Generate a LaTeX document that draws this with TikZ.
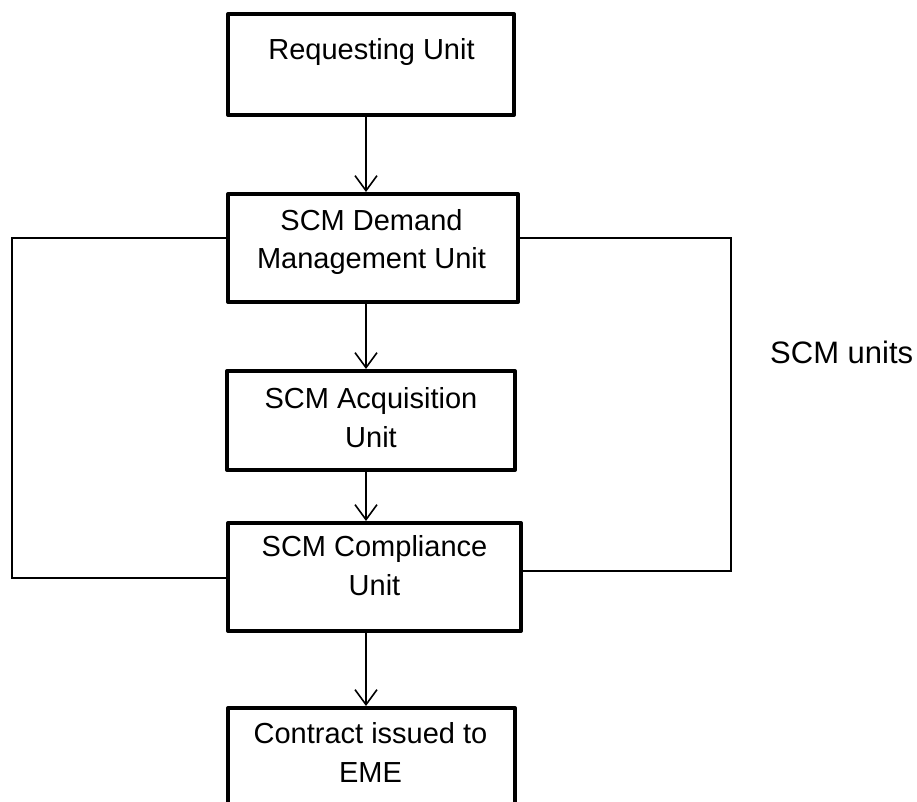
\documentclass[tikz,border=0pt]{standalone}
\usepackage{fontspec}
\setmainfont{Liberation Sans}
\usetikzlibrary{arrows.meta}

\tikzset{
  unitbox/.style={draw=black, line width=4pt, fill=white, inner sep=0pt,
    rectangle, line join=round},
  boxtext/.style={anchor=base, inner sep=0pt, font=\fontsize{29}{34}\selectfont},
  flow/.style={draw=black, line width=1.6pt,
    -{Straight Barb[length=15pt,width=22pt,line join=miter]}},
  bracket/.style={draw=black, line width=1.5pt},
}

\begin{document}
\begin{tikzpicture}[x=1pt, y=-1pt]
  \useasboundingbox (0,0) rectangle (917,802);
  \clip (0,0) rectangle (917,802);

  % process boxes
  \node[unitbox, minimum width=286pt, minimum height=101pt] (req) at (371,64.5) {};
  \node[unitbox, minimum width=290pt, minimum height=108pt] (dem) at (373,248) {};
  \node[unitbox, minimum width=288pt, minimum height=99pt]  (acq) at (371,420.5) {};
  \node[unitbox, minimum width=293pt, minimum height=108pt] (cmp) at (374.5,577) {};
  \node[unitbox, minimum width=287pt, minimum height=122pt] (con) at (371.5,769) {};

  % box labels
  \node[boxtext] (reqA) at (371.5,60) {Requesting Unit};
  \node[boxtext] (demA) at (371.5,230) {SCM Demand};
  \node[boxtext] (demB) at (371.5,268) {Management Unit};
  \node[boxtext] (acqA) at (371,408) {SCM Acquisition};
  \node[boxtext] (acqB) at (371,447) {Unit};
  \node[boxtext] (cmpA) at (374.5,556) {SCM Compliance};
  \node[boxtext] (cmpB) at (374.5,595) {Unit};
  \node[boxtext] (conA) at (370.5,743) {Contract issued to};
  \node[boxtext] (conB) at (370.5,782) {EME};

  % flow arrows down the centre
  \coordinate (ax) at (366,0);
  \draw[flow] (req.south -| ax) -- (dem.north -| ax);
  \draw[flow] (dem.south -| ax) -- (acq.north -| ax);
  \draw[flow] (acq.south -| ax) -- (cmp.north -| ax);
  \draw[flow] (cmp.south -| ax) -- (con.north -| ax);

  % bracket grouping the SCM units
  \coordinate (lt) at (12,238);
  \coordinate (lb) at (12,578);
  \coordinate (rt) at (731,238);
  \coordinate (rb) at (731,571);
  \draw[bracket] (dem.west |- lt) -- (lt) -- (lb) -- (cmp.west |- lb);
  \draw[bracket] (dem.east |- rt) -- (rt) -- (rb) -- (cmp.east |- rb);

  \node[anchor=base west, inner sep=0pt, font=\fontsize{31}{36}\selectfont]
    (scm) at (770,363) {SCM units};
\end{tikzpicture}
\end{document}
